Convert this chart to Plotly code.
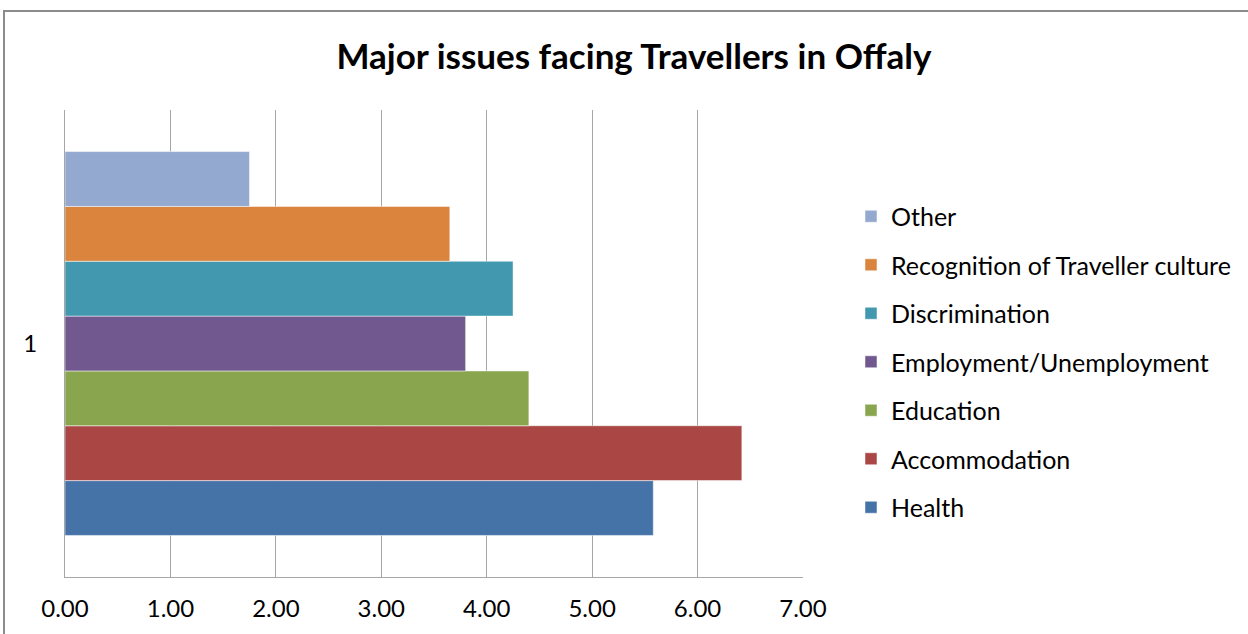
import plotly.graph_objects as go

categories = ["1"]
series_names = ["Health", "Accommodation", "Education", "Employment/Unemployment",
                "Discrimination", "Recognition of Traveller culture", "Other"]
series_values = [5.58, 6.42, 4.40, 3.80, 4.25, 3.65, 1.75]
series_colors = ["#4572A7", "#AA4643", "#89A54E", "#71588F", "#4198AF", "#DB843D", "#93A9CF"]
tick_vals = [0, 1, 2, 3, 4, 5, 6, 7]
tick_text = ["0.00", "1.00", "2.00", "3.00", "4.00", "5.00", "6.00", "7.00"]

FONT = "Lato"

fig = go.Figure()
n = len(series_names)
for i, (name, val, col) in enumerate(zip(series_names, series_values, series_colors)):
    fig.add_trace(go.Bar(
        y=categories, x=[val], name=name, orientation="h",
        marker=dict(color=col, line=dict(color="rgba(255,255,255,0.5)", width=1)),
        legendgroup=name, legendrank=(n - i) * 10,
    ))

# plot area pixel geometry
L, R, T, B = 65, 803, 110, 577
W, H = 1248, 634
pw, ph = R - L, B - T

def px_x(p):
    return (p - L) / pw

def px_y(p):
    return (B - p) / ph

fig.update_layout(
    width=W, height=H,
    margin=dict(l=L, r=W - R, t=T, b=H - B, pad=0),
    paper_bgcolor="white", plot_bgcolor="white",
    barmode="group", bargap=0.178, bargroupgap=0,
    font=dict(family=FONT, color="#000000", size=24),
    title=dict(text="<b>Major issues facing Travellers in Offaly</b>",
               x=0.508, xanchor="center", y=1 - 57 / H, yanchor="middle",
               font=dict(family=FONT, size=35, color="#000000")),
    xaxis=dict(range=[0, 7], tickvals=tick_vals, ticktext=tick_text,
               showgrid=True, gridcolor="#A6A6A6", gridwidth=1,
               showline=True, linecolor="#A6A6A6", linewidth=1,
               ticks="", ticklen=0, zeroline=False, ticklabelstandoff=10,
               tickfont=dict(family=FONT, size=24, color="#000000")),
    yaxis=dict(range=[-0.5, 0.5], type="category",
               showgrid=False, showline=True, linecolor="#A6A6A6", linewidth=1,
               ticks="", ticklabelstandoff=22,
               tickfont=dict(family=FONT, size=24, color="#000000")),
    legend=dict(x=px_x(851), xanchor="left", y=px_y(362), yanchor="middle",
                traceorder="grouped", tracegroupgap=13,
                font=dict(family=FONT, size=25, color="#000000"),
                bgcolor="rgba(0,0,0,0)"),
    showlegend=True,
    shapes=[dict(type="rect", xref="paper", yref="paper",
                 x0=px_x(4), x1=px_x(1260), y0=px_y(650), y1=px_y(11),
                 line=dict(color="#8C8C8C", width=2), fillcolor="rgba(0,0,0,0)",
                 layer="above")],
)

fig.write_html("out.html")
